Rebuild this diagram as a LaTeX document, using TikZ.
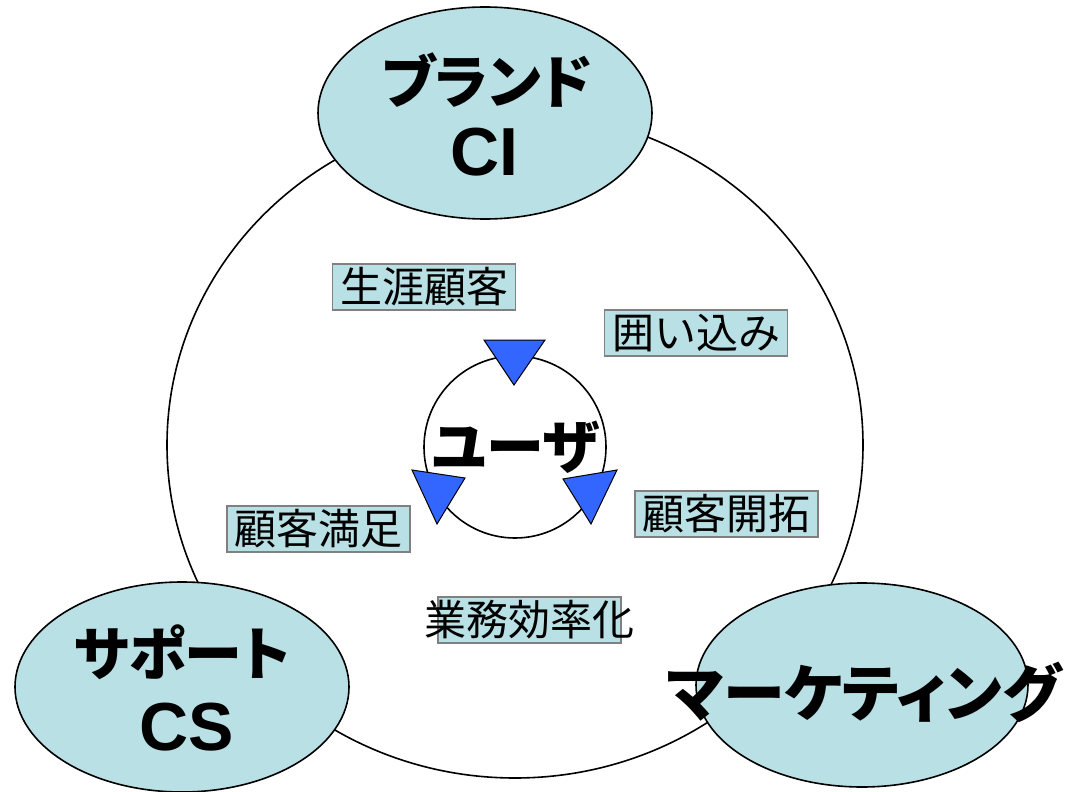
\documentclass[tikz,border=0pt]{standalone}
\usepackage{fontspec}
\setmainfont{Liberation Sans}
\newfontfamily\jp[RawFeature=+palt]{Noto Sans CJK JP}
\newfontfamily\jpr{Noto Sans CJK JP}
\usetikzlibrary{shapes.geometric}
\definecolor{lteal}{RGB}{185,224,228}
\definecolor{triblue}{RGB}{51,102,255}
\definecolor{boxline}{RGB}{128,128,128}
\begin{document}
\begin{tikzpicture}[x=1pt,y=-1pt,
  oval/.style={ellipse, draw=black, line width=1.6pt, fill=lteal, inner sep=0pt},
  bigjp/.style={font=\jp\bfseries\fontsize{58}{58}\selectfont, inner sep=0pt},
  latin/.style={font=\bfseries\fontsize{68}{68}\selectfont, inner sep=0pt},
  lbl/.style={draw=boxline, line width=1.5pt, fill=lteal, minimum width=183pt, minimum height=46pt, inner sep=0pt, font=\jpr\fontsize{42}{42}\selectfont},
  tri/.style={fill=triblue, draw=black, line width=1pt, line join=miter}
]
\useasboundingbox (0,0) rectangle (1069,792);
\node[ellipse, draw=black, line width=1.6pt, minimum width=696pt, minimum height=666pt, inner sep=0pt] (outer) at (515,445) {};
\node[oval, minimum width=334pt, minimum height=212pt] (brand) at (485,113) {};
\node[oval, minimum width=334pt, minimum height=210pt] (support) at (182,687) {};
\node[oval, minimum width=332pt, minimum height=204pt] (mkt) at (862,685) {};
\node[circle, draw=black, line width=1.6pt, minimum size=182pt, inner sep=0pt] (user) at (515,447) {};
% triangles
\filldraw[tri] (484,340) -- (545,340) -- (514,385) -- cycle;
\filldraw[tri] (412,470) -- (465,478) -- (437,524) -- cycle;
\filldraw[tri] (563,479) -- (617,470) -- (591,524) -- cycle;
% big texts
\node[bigjp] (brandt) at (487,80) {ブランド};
\node[latin] (ci) at (484,152) {CI};
\node[bigjp] (supportt) at (182,652) {サポート};
\node[latin] (cs) at (187,727) {CS};
\node[bigjp, font=\jp\bfseries\fontsize{62}{62}\selectfont] (mktt) at (864,692) {マーケティング};
\node[bigjp] (usert) at (516,447) {ユーザ};
% labels
\node[lbl] (l1) at (424,287) {生涯顧客};
\node[lbl] (l2) at (696,333) {囲い込み};
\node[lbl] (l3) at (318.5,529) {顧客満足};
\node[lbl] (l4) at (726.5,514) {顧客開拓};
\node[lbl] (l5) at (529.5,620) {\makebox[0pt]{業務効率化}};
\end{tikzpicture}
\end{document}
